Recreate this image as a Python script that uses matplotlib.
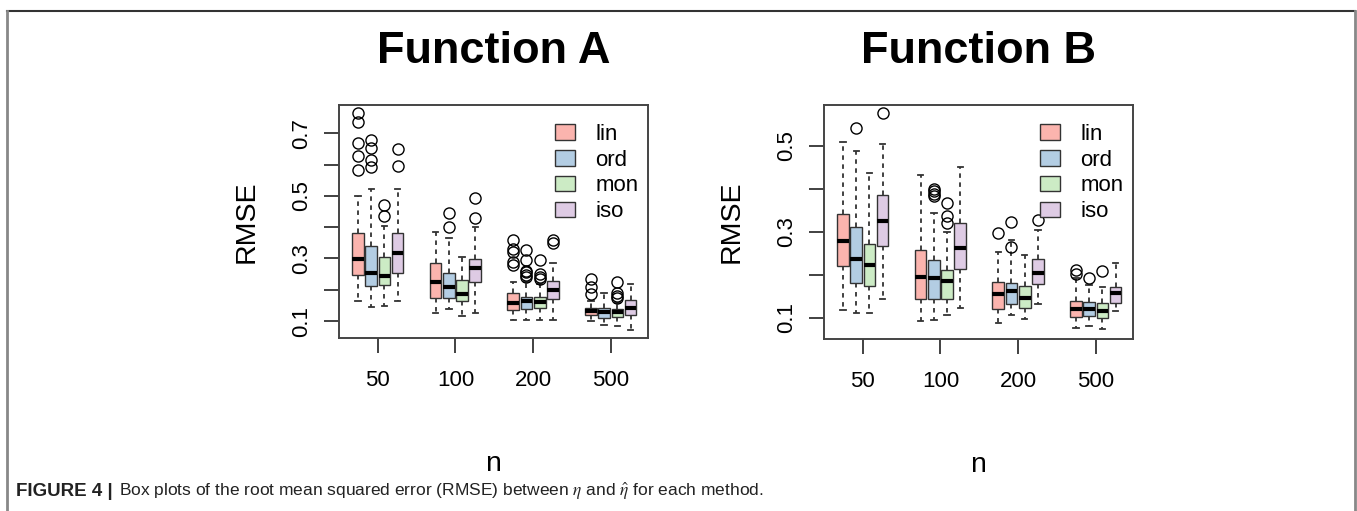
import matplotlib.pyplot as plt
from matplotlib.patches import Patch
from matplotlib.lines import Line2D

plt.rcParams['font.family'] = ['Liberation Sans', 'DejaVu Sans']
plt.rcParams['mathtext.fontset'] = 'stix'

methods = ["lin", "ord", "mon", "iso"]
colors = ["#FBB4AE", "#B3CDE3", "#CCEBC5", "#DECBE4"]
groups = ["50", "100", "200", "500"]

# Function A  (rows: lin, ord, mon, iso; columns: n = 50, 100, 200, 500)
a_med = [[0.299, 0.226, 0.159, 0.132], [0.253, 0.208, 0.165, 0.130],
         [0.245, 0.188, 0.162, 0.130], [0.318, 0.269, 0.200, 0.143]]
a_q1 = [[0.248, 0.173, 0.134, 0.119], [0.213, 0.173, 0.138, 0.111],
        [0.215, 0.165, 0.141, 0.114], [0.253, 0.226, 0.170, 0.119]]
a_q3 = [[0.380, 0.285, 0.191, 0.141], [0.339, 0.254, 0.177, 0.143],
        [0.304, 0.231, 0.177, 0.138], [0.382, 0.299, 0.229, 0.168]]
a_lo = [[0.165, 0.127, 0.105, 0.100], [0.145, 0.138, 0.105, 0.089],
        [0.148, 0.116, 0.105, 0.084], [0.165, 0.127, 0.105, 0.073]]
a_hi = [[0.498, 0.386, 0.224, 0.165], [0.521, 0.364, 0.224, 0.191],
        [0.404, 0.306, 0.218, 0.159], [0.521, 0.402, 0.285, 0.218]]
a_out = [[[0.764, 0.735, 0.670, 0.628, 0.583], [], [0.360, 0.330, 0.320, 0.290, 0.280], [0.235, 0.210, 0.185]],
         [[0.677, 0.652, 0.615, 0.591], [0.444, 0.402], [0.328, 0.296, 0.261, 0.256, 0.248, 0.240], []],
         [[0.471, 0.436], [], [0.294, 0.251, 0.242, 0.234], [0.224, 0.191, 0.181, 0.173]],
         [[0.649, 0.594], [0.492, 0.428], [0.360, 0.349], []]]

# Function B
b_med = [[0.279, 0.194, 0.155, 0.120], [0.238, 0.192, 0.163, 0.121],
         [0.223, 0.186, 0.147, 0.115], [0.325, 0.263, 0.205, 0.158]]
b_q1 = [[0.220, 0.145, 0.120, 0.103], [0.182, 0.145, 0.133, 0.105],
        [0.175, 0.145, 0.124, 0.100], [0.267, 0.213, 0.178, 0.135]]
b_q3 = [[0.342, 0.259, 0.184, 0.140], [0.312, 0.234, 0.182, 0.138],
        [0.273, 0.211, 0.174, 0.135], [0.386, 0.320, 0.236, 0.173]]
b_lo = [[0.118, 0.094, 0.089, 0.077], [0.112, 0.095, 0.107, 0.081],
        [0.112, 0.107, 0.098, 0.074], [0.145, 0.123, 0.133, 0.115]]
b_hi = [[0.510, 0.433, 0.254, 0.193], [0.487, 0.343, 0.281, 0.177],
        [0.438, 0.300, 0.246, 0.173], [0.504, 0.452, 0.304, 0.228]]
b_out = [[[], [], [0.297], [0.212, 0.202]],
         [[0.541], [0.400, 0.394, 0.388, 0.384], [0.324, 0.264], [0.193]],
         [[], [0.367, 0.337, 0.320], [], [0.208]],
         [[0.576], [], [0.328], []]]

edge = "#333333"


def draw_panel(ax, title, med, q1, q3, lo, hi, out, yticks, ylabels, ylim):
    for m in range(4):
        stats = []
        for g in range(4):
            stats.append(dict(med=med[m][g], q1=q1[m][g], q3=q3[m][g],
                              whislo=lo[m][g], whishi=hi[m][g], fliers=out[m][g]))
        pos = [g + 1 + (m - 1.5) * 0.17 for g in range(4)]
        ax.bxp(stats, positions=pos, widths=0.15, patch_artist=True,
               showfliers=True, capwidths=0.07,
               boxprops=dict(facecolor=colors[m], edgecolor=edge, linewidth=1),
               medianprops=dict(color="black", linewidth=3, solid_capstyle="butt"),
               whiskerprops=dict(color=edge, linewidth=1.3, linestyle=(0, (2.5, 2.5))),
               capprops=dict(color=edge, linewidth=1.3),
               flierprops=dict(marker="o", markerfacecolor="none",
                               markeredgecolor="black", markersize=8, markeredgewidth=1))
    ax.set_xlim(0.5, 4.48)
    ax.set_ylim(*ylim)
    ax.set_xticks([1, 2, 3, 4])
    ax.set_xticklabels(groups)
    ax.set_yticks(yticks)
    ax.set_yticklabels(ylabels, rotation=90, va="center")
    ax.tick_params(length=11, width=1.3, color="#333333", labelsize=16, pad=8)
    ax.tick_params(axis="x", pad=12)
    for s in ax.spines.values():
        s.set_color("#444444")
        s.set_linewidth(1.4)
    ax.set_ylabel("RMSE", fontsize=20.5, labelpad=23)
    ax.set_xlabel("n", fontsize=20.5, labelpad=43)
    ax.set_title(title, fontsize=32.5, fontweight="bold", pad=30)
    handles = [Patch(facecolor=c, edgecolor=edge, linewidth=1) for c in colors]
    ax.legend(handles, methods, loc="upper left", bbox_to_anchor=(0.7, 0.92),
              frameon=False, fontsize=16, handlelength=0.9, handleheight=0.7,
              handletextpad=0.9, labelspacing=0.22, borderpad=0, borderaxespad=0)


fig = plt.figure(figsize=(13.57, 5.11), dpi=100)
ax1 = fig.add_axes([339 / 1357, (511 - 338) / 511, 309 / 1357, 233 / 511])
ax2 = fig.add_axes([824 / 1357, (511 - 339) / 511, 309 / 1357, 234 / 511])

draw_panel(ax1, "Function A", a_med, a_q1, a_q3, a_lo, a_hi, a_out,
           [0.1, 0.2, 0.3, 0.4, 0.5, 0.6, 0.7], ["0.1", "", "0.3", "", "0.5", "", "0.7"],
           (0.046, 0.79))
draw_panel(ax2, "Function B", b_med, b_q1, b_q3, b_lo, b_hi, b_out,
           [0.1, 0.2, 0.3, 0.4, 0.5], ["0.1", "", "0.3", "", "0.5"],
           (0.051, 0.595))

# page frame
fig.add_artist(Line2D([7 / 1357, 1355 / 1357], [1 - 11 / 511, 1 - 11 / 511],
                      color="#333333", linewidth=1.5))
fig.add_artist(Line2D([7 / 1357, 7 / 1357], [0, 1 - 11 / 511], color="#888888", linewidth=2))
fig.add_artist(Line2D([1355 / 1357, 1355 / 1357], [0, 1 - 11 / 511], color="#888888", linewidth=2))

fig.text(16 / 1357, 1 - 491 / 511, "FIGURE 4 |", fontsize=13.5, fontweight="bold",
         va="center", ha="left", color="#222222")
fig.text(119 / 1357, 1 - 491 / 511,
         r"Box plots of the root mean squared error (RMSE) between $\eta$ and $\hat{\eta}$ for each method.",
         fontsize=12.5, va="center", ha="left", color="#222222")

fig.savefig("out.png", dpi=100)
